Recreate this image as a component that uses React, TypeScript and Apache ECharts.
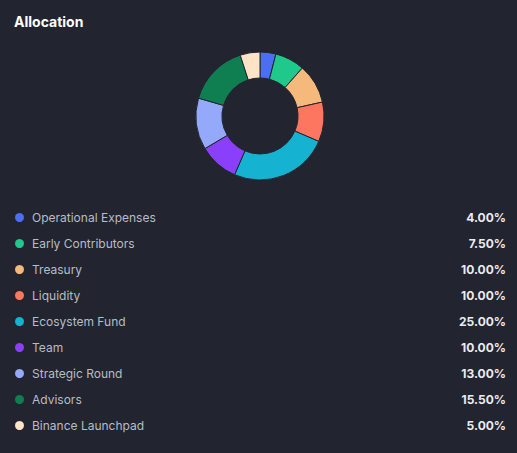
import React, { useEffect, useRef } from "react";
import * as echarts from "echarts";

const categories = [
  "Operational Expenses",
  "Early Contributors",
  "Treasury",
  "Liquidity",
  "Ecosystem Fund",
  "Team",
  "Strategic Round",
  "Advisors",
  "Binance Launchpad",
];
const values = [4.0, 7.5, 10.0, 10.0, 25.0, 10.0, 13.0, 15.5, 5.0];
const colors = [
  "#4c6ef5",
  "#1ec98b",
  "#f5b97c",
  "#fd7660",
  "#15b3d1",
  "#8a40fb",
  "#94a9f9",
  "#0f7f52",
  "#fde4c6",
];
const BG = "#22242f";

export default function App() {
  const ref = useRef<HTMLDivElement>(null);
  useEffect(() => {
    document.body.style.margin = "0";
    const chart = echarts.init(ref.current!, undefined, { renderer: "svg" });
    const valueMap: Record<string, number> = {};
    categories.forEach((c, i) => (valueMap[c] = values[i]));
    chart.setOption({
      animation: false,
      backgroundColor: BG,
      color: colors,
      title: {
        text: "Allocation",
        left: 9,
        top: 9,
        textStyle: {
          color: "#ffffff",
          fontSize: 14,
          fontWeight: "bold",
          fontFamily: "Inter",
        },
      },
      legend: {
        orient: "vertical",
        left: 8,
        top: 206,
        icon: "circle",
        itemWidth: 11,
        itemHeight: 11,
        itemGap: 13,
        selectedMode: false,
        data: categories,
        formatter: (name: string) =>
          `{n|${name}}{v|${valueMap[name].toFixed(2)}%}`,
        textStyle: {
          fontFamily: "Inter",
          rich: {
            n: {
              width: 424,
              fontSize: 12,
              lineHeight: 14,
              color: "#b7bdc6",
              fontFamily: "Inter",
              padding: [0, 0, 0, 2],
            },
            v: {
              width: 50,
              align: "right",
              fontSize: 12,
              lineHeight: 14,
              fontWeight: "bold",
              color: "#eaecef",
              fontFamily: "Inter",
            },
          },
        },
      },
      series: [
        {
          type: "pie",
          center: [260, 116],
          radius: [38, 64],
          startAngle: 90,
          clockwise: true,
          label: { show: false },
          labelLine: { show: false },
          emphasis: { disabled: true },
          itemStyle: { borderColor: BG, borderWidth: 1 },
          data: categories.map((c, i) => ({ name: c, value: values[i] })),
        },
      ],
    });
    return () => chart.dispose();
  }, []);
  return <div ref={ref} style={{ width: 517, height: 453 }} />;
}
